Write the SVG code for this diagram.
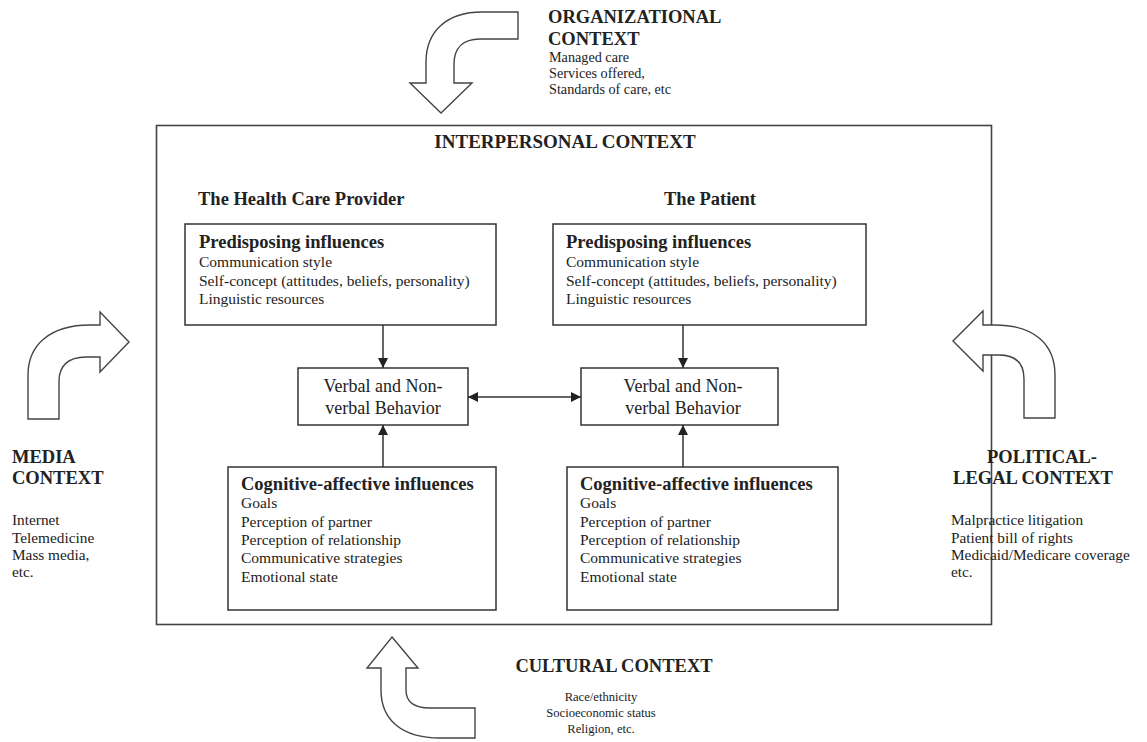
<svg xmlns="http://www.w3.org/2000/svg" width="1147" height="742" viewBox="0 0 1147 742">
<style>
text{font-family:"Liberation Serif","Times New Roman",serif;fill:#222}
.h{font-weight:bold;font-size:18.5px}
.b{font-size:15.5px}
.s{font-size:15.3px}
.o{font-size:14.2px}
.c{font-size:12.6px}
.v{font-size:18px}
.box{fill:#fff;stroke:#333;stroke-width:1.5}
.big{fill:#fff;stroke:#444;stroke-width:1.6}
.arr{fill:#fff;stroke:#444;stroke-width:1.4;stroke-linejoin:miter}
.con{stroke:#333;stroke-width:1.5;fill:none}
</style>
<defs>
<marker id="ah" viewBox="0 0 10 10" refX="10" refY="5" markerWidth="10" markerHeight="10" markerUnits="userSpaceOnUse" orient="auto-start-reverse">
<path d="M0,0 L10,5 L0,10 Z" fill="#222"/>
</marker>
</defs>
<rect width="1147" height="742" fill="#fff"/>

<g id="interpersonal">
<rect class="big" x="156.5" y="125.5" width="835" height="499"/>
<text class="h" x="565" y="148" text-anchor="middle" style="font-size:19px">INTERPERSONAL CONTEXT</text>
<text class="h" x="198" y="205">The Health Care Provider</text>
<text class="h" x="710" y="205" text-anchor="middle">The Patient</text>
</g>

<g id="provider-predisposing">
<rect class="box" x="185" y="224" width="311" height="101"/>
<text class="h" x="199" y="248">Predisposing influences</text>
<text class="b" x="199" y="267">Communication style</text>
<text class="b" x="199" y="286">Self-concept (attitudes, beliefs, personality)</text>
<text class="b" x="199" y="304">Linguistic resources</text>
</g>

<g id="patient-predisposing">
<rect class="box" x="553" y="224" width="313" height="101"/>
<text class="h" x="566" y="248">Predisposing influences</text>
<text class="b" x="566" y="267">Communication style</text>
<text class="b" x="566" y="286">Self-concept (attitudes, beliefs, personality)</text>
<text class="b" x="566" y="304">Linguistic resources</text>
</g>

<g id="provider-behavior">
<rect class="box" x="298" y="368" width="170" height="57"/>
<text class="v" x="383" y="392" text-anchor="middle">Verbal and Non-</text>
<text class="v" x="383" y="414" text-anchor="middle">verbal Behavior</text>
</g>

<g id="patient-behavior">
<rect class="box" x="581" y="368" width="197" height="57"/>
<text class="v" x="683" y="392" text-anchor="middle">Verbal and Non-</text>
<text class="v" x="683" y="414" text-anchor="middle">verbal Behavior</text>
</g>

<g id="provider-cognitive">
<rect class="box" x="228" y="467" width="268" height="143"/>
<text class="h" x="241" y="490">Cognitive-affective influences</text>
<text class="b" x="241" y="508">Goals</text>
<text class="b" x="241" y="527">Perception of partner</text>
<text class="b" x="241" y="545">Perception of relationship</text>
<text class="b" x="241" y="563">Communicative strategies</text>
<text class="b" x="241" y="582">Emotional state</text>
</g>

<g id="patient-cognitive">
<rect class="box" x="567" y="467" width="271" height="143"/>
<text class="h" x="580" y="490">Cognitive-affective influences</text>
<text class="b" x="580" y="508">Goals</text>
<text class="b" x="580" y="527">Perception of partner</text>
<text class="b" x="580" y="545">Perception of relationship</text>
<text class="b" x="580" y="563">Communicative strategies</text>
<text class="b" x="580" y="582">Emotional state</text>
</g>

<g id="connectors">
<line class="con" x1="383" y1="325" x2="383" y2="368" marker-end="url(#ah)"/>
<line class="con" x1="383" y1="467" x2="383" y2="425" marker-end="url(#ah)"/>
<line class="con" x1="683" y1="325" x2="683" y2="368" marker-end="url(#ah)"/>
<line class="con" x1="683" y1="467" x2="683" y2="425" marker-end="url(#ah)"/>
<line class="con" x1="468" y1="397" x2="581" y2="397" marker-start="url(#ah)" marker-end="url(#ah)"/>
</g>

<g id="organizational">
<path class="arr" d="M518 12 L482 12 C446 12 426 32 426 62 L426 83 L410 83 L441 113 L472 83 L454 83 L454 64 C454 48 463 39 480 39 L518 39 Z"/>
<text class="h" x="548" y="23">ORGANIZATIONAL</text>
<text class="h" x="548" y="45">CONTEXT</text>
<text class="o" x="549" y="62">Managed care</text>
<text class="o" x="549" y="78">Services offered,</text>
<text class="o" x="549" y="94">Standards of care, etc</text>
</g>

<g id="media">
<path class="arr" d="M28 419 L28 375 C28 345 50 325 90 325 L100 325 L100 312 L129 342 L100 372 L100 357 L86 357 C68 357 59 366 59 381 L59 419 Z"/>
<text class="h" x="12" y="463">MEDIA</text>
<text class="h" x="12" y="484">CONTEXT</text>
<text class="s" x="12" y="525">Internet</text>
<text class="s" x="12" y="543">Telemedicine</text>
<text class="s" x="12" y="560">Mass media,</text>
<text class="s" x="12" y="577">etc.</text>
</g>

<g id="political">
<path class="arr" d="M1055 418 L1055 375 C1055 345 1035 325 995 325 L983 325 L983 311 L953 341 L983 371 L983 355 L999 355 C1016 355 1024 364 1024 379 L1024 418 Z"/>
<text class="h" x="1042" y="463" text-anchor="middle">POLITICAL-</text>
<text class="h" x="1033" y="484" text-anchor="middle">LEGAL CONTEXT</text>
<text class="s" x="951" y="525">Malpractice litigation</text>
<text class="s" x="951" y="543">Patient bill of rights</text>
<text class="s" x="951" y="560">Medicaid/Medicare coverage</text>
<text class="s" x="951" y="577">etc.</text>
</g>

<g id="cultural">
<path class="arr" d="M392 637 L418 668 L406 668 L406 690 C406 702 414 708 430 708 L475 708 L475 738 L440 738 C402 738 381 720 381 690 L381 668 L367 668 Z"/>
<text class="h" x="614" y="672" text-anchor="middle">CULTURAL CONTEXT</text>
<text class="c" x="601" y="701" text-anchor="middle">Race/ethnicity</text>
<text class="c" x="601" y="717" text-anchor="middle">Socioeconomic status</text>
<text class="c" x="601" y="733" text-anchor="middle">Religion, etc.</text>
</g>
</svg>
